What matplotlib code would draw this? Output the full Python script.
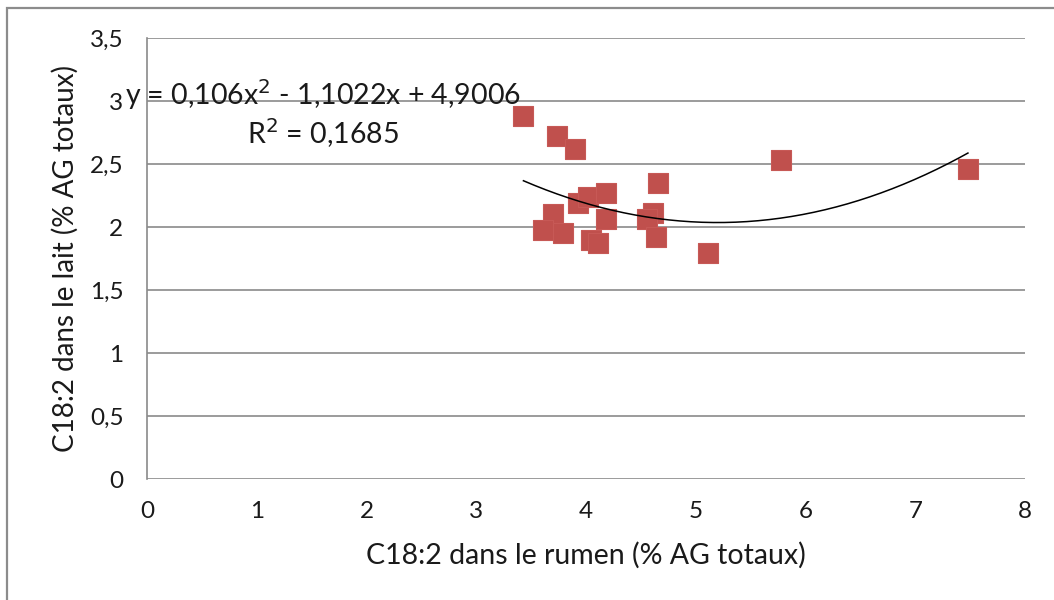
import numpy as np
import matplotlib.pyplot as plt
from matplotlib.patches import Rectangle

# C18:2 rumen vs milk (% of total fatty acids)
rumen = [3.43, 3.74, 3.90, 3.70, 3.61, 3.79, 3.93, 4.02, 4.18, 4.18,
         4.05, 4.11, 4.66, 4.61, 4.56, 4.64, 5.11, 5.78, 7.48]
lait = [2.88, 2.72, 2.62, 2.10, 1.98, 1.95, 2.19, 2.24, 2.27, 2.06,
        1.90, 1.87, 2.35, 2.11, 2.06, 1.92, 1.79, 2.53, 2.46]

# polynomial trend (order 2) as given in the label
coef = [0.106, -1.1022, 4.9006]
r2 = 0.1685

x_ticks = [0, 1, 2, 3, 4, 5, 6, 7, 8]
y_ticks = [0, 0.5, 1, 1.5, 2, 2.5, 3, 3.5]

plt.rcParams['font.family'] = ['Lato', 'DejaVu Sans']

fig = plt.figure(figsize=(10.54, 6), dpi=100)
fig.patches.append(Rectangle((7 / 1054, -0.1), 1.2, (592 / 600) + 0.1,
                             transform=fig.transFigure, fill=False,
                             edgecolor='#8c8c8c', linewidth=1.6))

ax = fig.add_axes([147 / 1054, 121 / 600, 878 / 1054, 441 / 600])

grid_color = '#8a8a8a'
for yv in y_ticks:
    ax.axhline(yv, color=grid_color, linewidth=1.2, zorder=1)

ax.scatter(rumen, lait, marker='s', s=15 ** 2, color='#C0504D',
           edgecolors='#C75956', linewidths=0.8, zorder=3)

xs = np.linspace(min(rumen), max(rumen), 200)
ax.plot(xs, np.polyval(coef, xs), color='black', linewidth=1.1, zorder=4)

def fr(v):
    return ('%g' % v).replace('.', ',')

text_color = '#1a1a1a'
ax.set_xlim(0, 8)
ax.set_ylim(0, 3.5)
ax.set_xticks(x_ticks)
ax.set_yticks(y_ticks)
ax.set_xticklabels([fr(v) for v in x_ticks], fontsize=17.5, color=text_color)
ax.set_yticklabels([fr(v) for v in y_ticks], fontsize=17.5, color=text_color)
ax.tick_params(length=0, pad=17)
ax.tick_params(axis='x', pad=16)

for side in ['top', 'right', 'bottom']:
    ax.spines[side].set_visible(False)
ax.spines['left'].set_color(grid_color)
ax.spines['left'].set_linewidth(1.2)

ax.set_xlabel('C18:2 dans le rumen (% AG totaux)', fontsize=20.5,
              color=text_color, labelpad=14)
ax.set_ylabel('C18:2 dans le lait (% AG totaux)', fontsize=20,
              color=text_color, labelpad=8)

eq = 'y = %sx$^2$ - %sx + %s\nR$^2$ = %s' % (fr(coef[0]), fr(-coef[1]),
                                             fr(coef[2]), fr(r2))
ax.text(1.60, 2.90, eq, fontsize=20.5, color=text_color, ha='center',
        va='center', linespacing=1.15, zorder=5)

fig.savefig('out.png', dpi=100)
